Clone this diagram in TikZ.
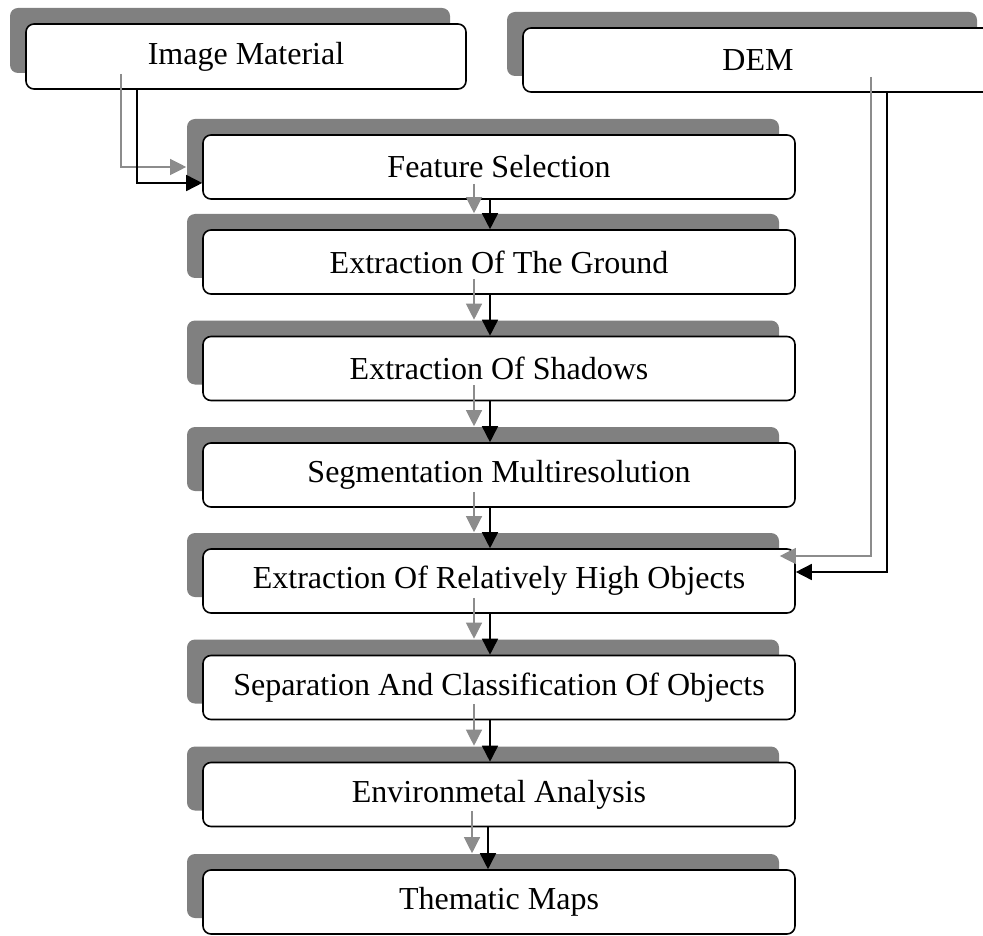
\documentclass[tikz,border=0pt]{standalone}
\usepackage{fontspec}
\setmainfont{Liberation Serif}
\usetikzlibrary{arrows.meta,shadows}

\tikzset{
  box/.style={draw, fill=white, rounded corners=4pt, line width=0.8pt, inner sep=0pt,
    font=\fontsize{16}{18}\selectfont,
    general shadow={fill=black!50, shadow xshift=-8pt, shadow yshift=8pt}},
  stage/.style={box, minimum width=296pt, minimum height=32pt},
  flow/.style={line width=0.8pt, -{Triangle[length=8pt,width=8pt]}},
  flowshade/.style={flow, draw=black!45, line width=0.6pt,
    transform canvas={xshift=-8pt,yshift=8pt}}
}

\begin{document}
\begin{tikzpicture}[x=0.5pt,y=-0.5pt]
				\useasboundingbox (0,0) rectangle (983,935);
				\clip (0,0) rectangle (983,935);
				
				% inputs
				\node[box, minimum width=220pt, minimum height=32.5pt] (im) at (246,56.5) {Image Material};
				\node[box, minimum width=235pt, minimum height=32pt] (dem) at (758,60) {DEM};
				
				% processing chain
				\node[stage] (fs) at (499,167) {Feature Selection};
				\node[stage] (gr) at (499,262) {Extraction Of The Ground};
				\node[stage] (sh) at (499,368.5) {Extraction Of Shadows};
				\node[stage] (sm) at (499,475) {Segmentation Multiresolution};
				\node[stage] (ho) at (499,581) {Extraction Of Relatively High Objects};
				\node[stage] (sc) at (499,687.5) {Separation And Classification Of Objects};
				\node[stage] (ea) at (499,794.5) {Environmetal Analysis};
				\node[stage] (tm) at (499,902) {Thematic Maps};
				
				% side inputs
				\draw[flowshade] ([xshift=-54.5pt]im.south) |- ([yshift=-8pt]fs.west);
				\draw[flow] ([xshift=-54.5pt]im.south) |- ([yshift=-8pt]fs.west);
				\draw[flowshade] ([xshift=64.5pt]dem.south) |- ([yshift=4.5pt]ho.east);
				\draw[flow] ([xshift=64.5pt]dem.south) |- ([yshift=4.5pt]ho.east);
				
				% chain arrows
				\draw[flowshade] ([xshift=-4.5pt]fs.south) -- ([xshift=-4.5pt]gr.north);
				\draw[flow] ([xshift=-4.5pt]fs.south) -- ([xshift=-4.5pt]gr.north);
				\draw[flowshade] ([xshift=-4.5pt]gr.south) -- ([xshift=-4.5pt]sh.north);
				\draw[flow] ([xshift=-4.5pt]gr.south) -- ([xshift=-4.5pt]sh.north);
				\draw[flowshade] ([xshift=-4.5pt]sh.south) -- ([xshift=-4.5pt]sm.north);
				\draw[flow] ([xshift=-4.5pt]sh.south) -- ([xshift=-4.5pt]sm.north);
				\draw[flowshade] ([xshift=-4.5pt]sm.south) -- ([xshift=-4.5pt]ho.north);
				\draw[flow] ([xshift=-4.5pt]sm.south) -- ([xshift=-4.5pt]ho.north);
				\draw[flowshade] ([xshift=-4.5pt]ho.south) -- ([xshift=-4.5pt]sc.north);
				\draw[flow] ([xshift=-4.5pt]ho.south) -- ([xshift=-4.5pt]sc.north);
				\draw[flowshade] ([xshift=-4.5pt]sc.south) -- ([xshift=-4.5pt]ea.north);
				\draw[flow] ([xshift=-4.5pt]sc.south) -- ([xshift=-4.5pt]ea.north);
				\draw[flowshade] ([xshift=-5.5pt]ea.south) -- ([xshift=-5.5pt]tm.north);
				\draw[flow] ([xshift=-5.5pt]ea.south) -- ([xshift=-5.5pt]tm.north);
\end{tikzpicture}
\end{document}
